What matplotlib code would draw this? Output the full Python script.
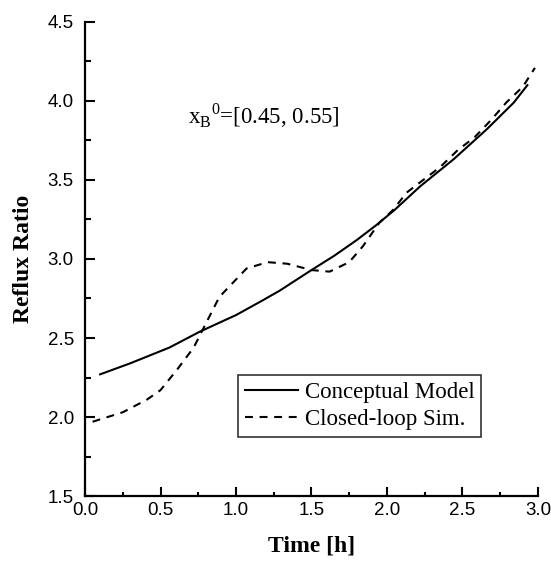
import numpy as np
import matplotlib.pyplot as plt
from matplotlib.ticker import MultipleLocator

# conceptual model (solid)
t_model = [0.10, 0.30, 0.56, 0.76, 1.00, 1.18, 1.29, 1.50, 1.65, 1.80, 1.93, 2.05, 2.22, 2.44, 2.66, 2.84, 2.93]
r_model = [2.27, 2.34, 2.44, 2.54, 2.645, 2.74, 2.80, 2.93, 3.02, 3.12, 3.215, 3.31, 3.46, 3.63, 3.82, 3.99, 4.10]

# closed-loop simulation (dashed)
t_sim = [0.05, 0.25, 0.41, 0.50, 0.61, 0.72, 0.81, 0.89, 0.98, 1.07, 1.21, 1.34, 1.50, 1.62,
         1.75, 1.84, 1.95, 2.04, 2.13, 2.24, 2.35, 2.47, 2.58, 2.69, 2.79, 2.90, 2.98]
r_sim = [1.97, 2.03, 2.11, 2.17, 2.30, 2.44, 2.61, 2.76, 2.85, 2.94, 2.98, 2.97, 2.93, 2.92,
         2.98, 3.08, 3.23, 3.31, 3.42, 3.50, 3.58, 3.69, 3.77, 3.88, 3.99, 4.09, 4.21]

plt.rcParams['font.family'] = ['Liberation Sans', 'DejaVu Sans']
serif = ['Liberation Serif', 'DejaVu Serif']

fig = plt.figure(figsize=(5.51, 5.65), dpi=100)
ax = fig.add_axes([0.1543, 0.1221, 0.822, 0.839])

ax.plot(t_model, r_model, color='black', lw=1.5, label='Conceptual Model')
ax.plot(t_sim, r_sim, color='black', lw=1.5, ls=(0, (3.8, 3.2)), label='Closed-loop Sim.')

ax.set_xlim(0, 3.0)
ax.set_ylim(1.5, 4.5)
ax.xaxis.set_major_locator(MultipleLocator(0.5))
ax.xaxis.set_minor_locator(MultipleLocator(0.25))
ax.yaxis.set_major_locator(MultipleLocator(0.5))
ax.yaxis.set_minor_locator(MultipleLocator(0.25))
ax.tick_params(which='both', direction='in', width=1.5, labelsize=13.5)
ax.tick_params(axis='x', which='major', length=6.5, pad=4.5)
ax.tick_params(axis='x', which='minor', length=3)
ax.tick_params(axis='y', which='major', length=7.5, pad=8)
ax.tick_params(axis='y', which='minor', length=4.5)
ax.spines['top'].set_visible(False)
ax.spines['right'].set_visible(False)
ax.spines['left'].set_linewidth(1.6)
ax.spines['bottom'].set_linewidth(1.6)

ax.set_xlabel('Time [h]', fontsize=17, fontweight='bold', family=serif, labelpad=12)
ax.set_ylabel('Reflux Ratio', fontsize=17, fontweight='bold', family=serif, labelpad=10)

ax.text(0.68, 3.86, r'x$_\mathregular{B}$$^\mathregular{0}$=[0.45, 0.55]', fontsize=16.5,
        family=serif, va='baseline')

leg = ax.legend(loc='upper left', bbox_to_anchor=(0.338, 0.255), borderaxespad=0,
                frameon=True, fancybox=False, edgecolor='black',
                prop={'family': serif, 'size': 16.5},
                handlelength=2.3, handletextpad=0.3, borderpad=0.3, labelspacing=0.27)
leg.get_frame().set_linewidth(1.2)

fig.savefig('out.png', dpi=100)
